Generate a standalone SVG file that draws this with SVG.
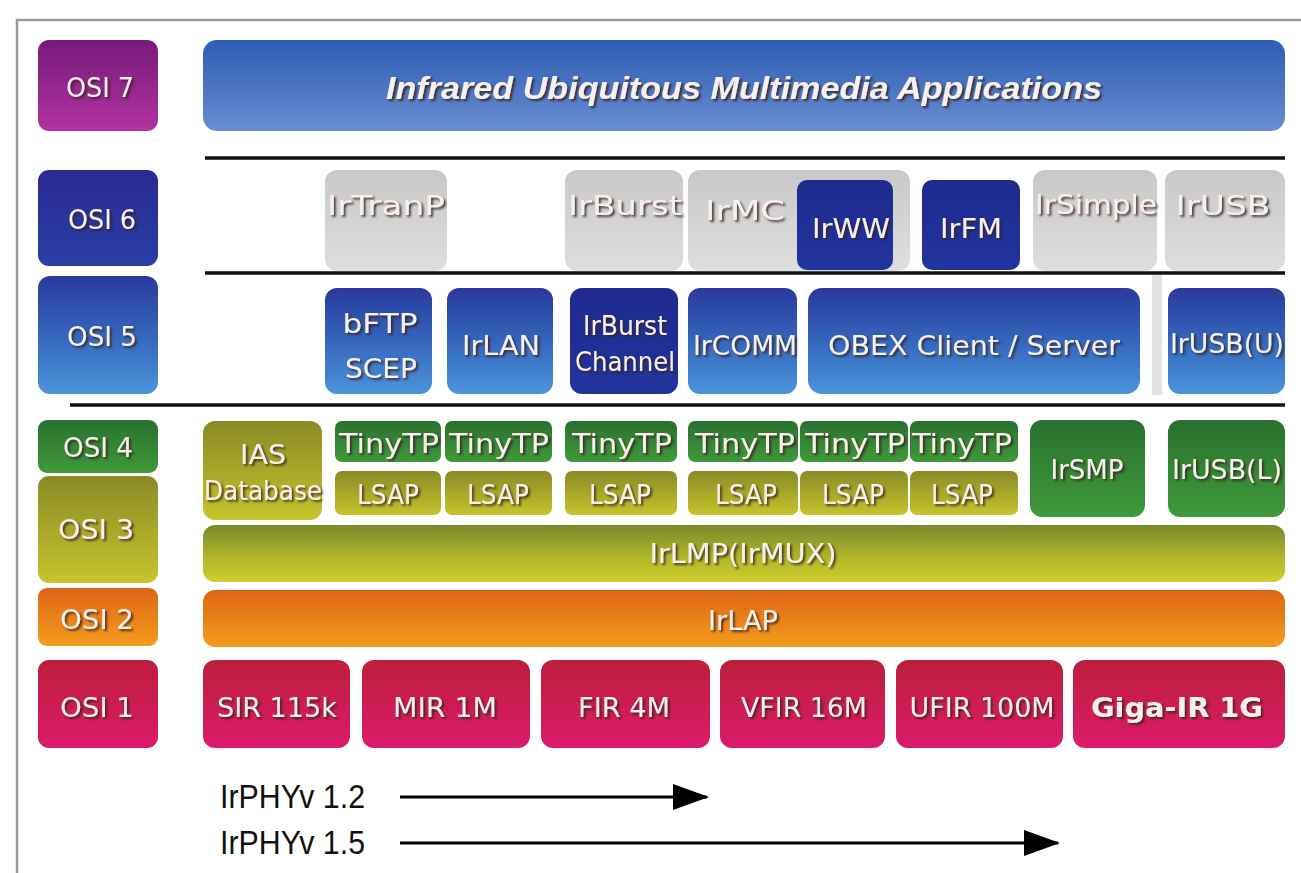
<svg xmlns="http://www.w3.org/2000/svg" width="1301" height="873" viewBox="0 0 1301 873">
<defs>
<linearGradient id="gPurple" x1="0" y1="0" x2="0" y2="1"><stop offset="0" stop-color="#761a7c"/><stop offset="1" stop-color="#b2339f"/></linearGradient>
<linearGradient id="gTop" x1="0" y1="0" x2="0" y2="1"><stop offset="0" stop-color="#2f5db3"/><stop offset="0.5" stop-color="#4a74c2"/><stop offset="1" stop-color="#6a8fd2"/></linearGradient>
<linearGradient id="gNavy" x1="0" y1="0" x2="0" y2="1"><stop offset="0" stop-color="#2a2a92"/><stop offset="1" stop-color="#2a3ea8"/></linearGradient>
<linearGradient id="gDark" x1="0" y1="0" x2="0" y2="1"><stop offset="0" stop-color="#1e2a8e"/><stop offset="1" stop-color="#22349e"/></linearGradient>
<linearGradient id="gBlue" x1="0" y1="0" x2="0" y2="1"><stop offset="0" stop-color="#2a3a9c"/><stop offset="0.5" stop-color="#3466bc"/><stop offset="1" stop-color="#4c94da"/></linearGradient>
<linearGradient id="gGray" x1="0" y1="0" x2="0" y2="1"><stop offset="0" stop-color="#c8c8c8"/><stop offset="1" stop-color="#dedede"/></linearGradient>
<linearGradient id="gGreen" x1="0" y1="0" x2="0" y2="1"><stop offset="0" stop-color="#2a7030"/><stop offset="1" stop-color="#3f9a3a"/></linearGradient>
<linearGradient id="gOlive" x1="0" y1="0" x2="0" y2="1"><stop offset="0" stop-color="#8a8a26"/><stop offset="1" stop-color="#c6c42c"/></linearGradient>
<linearGradient id="gLmp" x1="0" y1="0" x2="0" y2="1"><stop offset="0" stop-color="#778a2c"/><stop offset="0.6" stop-color="#b4b82a"/><stop offset="1" stop-color="#cfcd2a"/></linearGradient>
<linearGradient id="gOrange" x1="0" y1="0" x2="0" y2="1"><stop offset="0" stop-color="#de6418"/><stop offset="1" stop-color="#f49c1c"/></linearGradient>
<linearGradient id="gRed" x1="0" y1="0" x2="0" y2="1"><stop offset="0" stop-color="#bc1f3a"/><stop offset="1" stop-color="#dc1a6c"/></linearGradient>
<filter id="sh" x="-10%" y="-20%" width="120%" height="150%"><feDropShadow dx="2" dy="2" stdDeviation="0.8" flood-color="#3a2222" flood-opacity="0.85"/></filter>
<marker id="ah" markerUnits="userSpaceOnUse" markerWidth="36" markerHeight="26" refX="34" refY="13" orient="auto"><path d="M0,0 L36,13 L0,26 z" fill="#000"/></marker>
</defs>
<style>
.lbl{font-family:"DejaVu Sans","Liberation Sans",sans-serif;font-size:27px;fill:#f6f0ea;text-anchor:middle;filter:url(#sh)}
.sep{stroke:#111;stroke-width:3.5}
.cap{font-family:"Liberation Sans",Arial,sans-serif;font-size:33px;fill:#111}
.arr{stroke:#000;stroke-width:3;fill:none;marker-end:url(#ah)}
</style>
<rect width="1301" height="873" fill="#ffffff"/>
<path d="M17,873 V20 H1301" fill="none" stroke="#9a9a9a" stroke-width="2.5"/>

<!-- OSI column -->
<g id="osi7"><rect x="38" y="40" width="120" height="91" rx="11" fill="url(#gPurple)"/><text class="lbl" x="100" y="97" textLength="68" lengthAdjust="spacingAndGlyphs">OSI 7</text></g>
<g id="osi6"><rect x="38" y="170" width="120" height="96" rx="11" fill="url(#gNavy)"/><text class="lbl" x="102" y="229" textLength="68" lengthAdjust="spacingAndGlyphs">OSI 6</text></g>
<g id="osi5"><rect x="38" y="276" width="120" height="118" rx="12" fill="url(#gBlue)"/><text class="lbl" x="102" y="346" textLength="70" lengthAdjust="spacingAndGlyphs">OSI 5</text></g>
<g id="osi4"><rect x="38" y="420" width="120" height="53" rx="9" fill="url(#gGreen)"/><text class="lbl" x="98" y="457" textLength="70" lengthAdjust="spacingAndGlyphs">OSI 4</text></g>
<g id="osi3"><rect x="38" y="476" width="120" height="107" rx="11" fill="url(#gOlive)"/><text class="lbl" x="96" y="539" textLength="76" lengthAdjust="spacingAndGlyphs">OSI 3</text></g>
<g id="osi2"><rect x="38" y="588" width="120" height="58" rx="9" fill="url(#gOrange)"/><text class="lbl" x="97" y="629" textLength="74" lengthAdjust="spacingAndGlyphs">OSI 2</text></g>
<g id="osi1"><rect x="38" y="660" width="120" height="88" rx="11" fill="url(#gRed)"/><text class="lbl" x="97" y="717" textLength="74" lengthAdjust="spacingAndGlyphs">OSI 1</text></g>

<!-- Layer 7 -->
<g id="apps"><rect x="203" y="40" width="1082" height="91" rx="14" fill="url(#gTop)"/><text x="744" y="99" font-family="'Liberation Sans',Arial,sans-serif" font-size="31" font-weight="bold" font-style="italic" fill="#f6f0ea" text-anchor="middle" filter="url(#sh)" textLength="716" lengthAdjust="spacingAndGlyphs">Infrared Ubiquitous Multimedia Applications</text></g>

<!-- separators -->
<line class="sep" x1="205" y1="158" x2="1285" y2="158"/>
<line class="sep" x1="205" y1="273" x2="1285" y2="273"/>
<line class="sep" x1="70" y1="405" x2="1285" y2="405"/>
<rect x="1152" y="275" width="10" height="120" fill="#e2e2e2"/>

<!-- Layer 6 -->
<g id="irtranp"><rect x="325" y="170" width="122" height="101" rx="12" fill="url(#gGray)"/><text class="lbl" x="386" y="215" textLength="118" lengthAdjust="spacingAndGlyphs">IrTranP</text></g>
<g id="irburst6"><rect x="565" y="170" width="118" height="101" rx="12" fill="url(#gGray)"/><text class="lbl" x="625" y="215" textLength="114" lengthAdjust="spacingAndGlyphs">IrBurst</text></g>
<g id="irmc"><rect x="688" y="170" width="222" height="101" rx="12" fill="url(#gGray)"/><text class="lbl" x="745" y="220" textLength="80" lengthAdjust="spacingAndGlyphs">IrMC</text></g>
<g id="irww"><rect x="797" y="180" width="96" height="90" rx="10" fill="url(#gDark)"/><text class="lbl" x="851" y="238" textLength="78" lengthAdjust="spacingAndGlyphs">IrWW</text></g>
<g id="irfm"><rect x="922" y="180" width="98" height="90" rx="10" fill="url(#gDark)"/><text class="lbl" x="971" y="238" textLength="62" lengthAdjust="spacingAndGlyphs">IrFM</text></g>
<g id="irsimple"><rect x="1033" y="170" width="124" height="101" rx="12" fill="url(#gGray)"/><text class="lbl" x="1096" y="214" textLength="122" lengthAdjust="spacingAndGlyphs">IrSimple</text></g>
<g id="irusb"><rect x="1165" y="170" width="120" height="101" rx="12" fill="url(#gGray)"/><text class="lbl" x="1223" y="215" textLength="95" lengthAdjust="spacingAndGlyphs">IrUSB</text></g>

<!-- Layer 5 -->
<g id="bftp"><rect x="325" y="288" width="107" height="106" rx="12" fill="url(#gBlue)"/><text class="lbl" x="380" y="333" textLength="75" lengthAdjust="spacingAndGlyphs">bFTP</text><text class="lbl" x="381" y="378" textLength="72" lengthAdjust="spacingAndGlyphs">SCEP</text></g>
<g id="irlan"><rect x="447" y="288" width="106" height="106" rx="12" fill="url(#gBlue)"/><text class="lbl" x="501" y="355" textLength="78" lengthAdjust="spacingAndGlyphs">IrLAN</text></g>
<g id="irburstch"><rect x="570" y="288" width="108" height="106" rx="12" fill="url(#gDark)"/><text class="lbl" x="625" y="335" font-size="24" textLength="84" lengthAdjust="spacingAndGlyphs">IrBurst</text><text class="lbl" x="625" y="371" font-size="24" textLength="100" lengthAdjust="spacingAndGlyphs">Channel</text></g>
<g id="ircomm"><rect x="688" y="288" width="109" height="106" rx="12" fill="url(#gBlue)"/><text class="lbl" x="745" y="355" textLength="104" lengthAdjust="spacingAndGlyphs">IrCOMM</text></g>
<g id="obex"><rect x="808" y="288" width="332" height="106" rx="14" fill="url(#gBlue)"/><text class="lbl" x="974" y="355" textLength="292" lengthAdjust="spacingAndGlyphs">OBEX Client / Server</text></g>
<g id="irusbu"><rect x="1168" y="288" width="117" height="106" rx="12" fill="url(#gBlue)"/><text class="lbl" x="1227" y="353" font-size="22" textLength="114" lengthAdjust="spacingAndGlyphs">IrUSB(U)</text></g>

<!-- Layer 4/3 -->
<g id="ias"><rect x="203" y="421" width="119" height="99" rx="12" fill="url(#gOlive)"/><text class="lbl" x="263" y="464" font-size="24" textLength="46" lengthAdjust="spacingAndGlyphs">IAS</text><text class="lbl" x="263" y="500" font-size="24" textLength="118" lengthAdjust="spacingAndGlyphs">Database</text></g>
<g id="tinytp1"><rect x="335" y="421" width="106" height="41" rx="7" fill="url(#gGreen)"/><text class="lbl" x="389" y="453" textLength="100" lengthAdjust="spacingAndGlyphs">TinyTP</text></g>
<g id="tinytp2"><rect x="445" y="421" width="107" height="41" rx="7" fill="url(#gGreen)"/><text class="lbl" x="499" y="453" textLength="100" lengthAdjust="spacingAndGlyphs">TinyTP</text></g>
<g id="tinytp3"><rect x="565" y="421" width="112" height="41" rx="7" fill="url(#gGreen)"/><text class="lbl" x="622" y="453" textLength="100" lengthAdjust="spacingAndGlyphs">TinyTP</text></g>
<g id="tinytp4"><rect x="688" y="421" width="110" height="41" rx="7" fill="url(#gGreen)"/><text class="lbl" x="745" y="453" textLength="100" lengthAdjust="spacingAndGlyphs">TinyTP</text></g>
<g id="tinytp5"><rect x="800" y="421" width="108" height="41" rx="7" fill="url(#gGreen)"/><text class="lbl" x="855" y="453" textLength="100" lengthAdjust="spacingAndGlyphs">TinyTP</text></g>
<g id="tinytp6"><rect x="910" y="421" width="108" height="41" rx="7" fill="url(#gGreen)"/><text class="lbl" x="962" y="453" textLength="100" lengthAdjust="spacingAndGlyphs">TinyTP</text></g>
<g id="lsap1"><rect x="335" y="471" width="106" height="44" rx="7" fill="url(#gOlive)"/><text class="lbl" x="388" y="504" textLength="62" lengthAdjust="spacingAndGlyphs">LSAP</text></g>
<g id="lsap2"><rect x="445" y="471" width="107" height="44" rx="7" fill="url(#gOlive)"/><text class="lbl" x="498" y="504" textLength="62" lengthAdjust="spacingAndGlyphs">LSAP</text></g>
<g id="lsap3"><rect x="565" y="471" width="112" height="44" rx="7" fill="url(#gOlive)"/><text class="lbl" x="620" y="504" textLength="62" lengthAdjust="spacingAndGlyphs">LSAP</text></g>
<g id="lsap4"><rect x="688" y="471" width="110" height="44" rx="7" fill="url(#gOlive)"/><text class="lbl" x="746" y="504" textLength="62" lengthAdjust="spacingAndGlyphs">LSAP</text></g>
<g id="lsap5"><rect x="800" y="471" width="108" height="44" rx="7" fill="url(#gOlive)"/><text class="lbl" x="853" y="504" textLength="62" lengthAdjust="spacingAndGlyphs">LSAP</text></g>
<g id="lsap6"><rect x="910" y="471" width="108" height="44" rx="7" fill="url(#gOlive)"/><text class="lbl" x="962" y="504" textLength="62" lengthAdjust="spacingAndGlyphs">LSAP</text></g>
<g id="irsmp"><rect x="1030" y="420" width="115" height="97" rx="12" fill="url(#gGreen)"/><text class="lbl" x="1087" y="479" textLength="73" lengthAdjust="spacingAndGlyphs">IrSMP</text></g>
<g id="irusbl"><rect x="1168" y="420" width="117" height="97" rx="12" fill="url(#gGreen)"/><text class="lbl" x="1227" y="479" font-size="22" textLength="110" lengthAdjust="spacingAndGlyphs">IrUSB(L)</text></g>
<g id="irlmp"><rect x="203" y="525" width="1082" height="57" rx="12" fill="url(#gLmp)"/><text class="lbl" x="743" y="563" textLength="187" lengthAdjust="spacingAndGlyphs">IrLMP(IrMUX)</text></g>

<!-- Layer 2 -->
<g id="irlap"><rect x="203" y="590" width="1082" height="57" rx="12" fill="url(#gOrange)"/><text class="lbl" x="743" y="630" textLength="70" lengthAdjust="spacingAndGlyphs">IrLAP</text></g>

<!-- Layer 1 -->
<g id="sir"><rect x="203" y="660" width="147" height="88" rx="12" fill="url(#gRed)"/><text class="lbl" x="277" y="717" textLength="120" lengthAdjust="spacingAndGlyphs">SIR 115k</text></g>
<g id="mir"><rect x="362" y="660" width="168" height="88" rx="12" fill="url(#gRed)"/><text class="lbl" x="445" y="717" textLength="104" lengthAdjust="spacingAndGlyphs">MIR 1M</text></g>
<g id="fir"><rect x="541" y="660" width="169" height="88" rx="12" fill="url(#gRed)"/><text class="lbl" x="624" y="717" textLength="92" lengthAdjust="spacingAndGlyphs">FIR 4M</text></g>
<g id="vfir"><rect x="720" y="660" width="165" height="88" rx="12" fill="url(#gRed)"/><text class="lbl" x="804" y="717" textLength="126" lengthAdjust="spacingAndGlyphs">VFIR 16M</text></g>
<g id="ufir"><rect x="896" y="660" width="167" height="88" rx="12" fill="url(#gRed)"/><text class="lbl" x="982" y="717" textLength="145" lengthAdjust="spacingAndGlyphs">UFIR 100M</text></g>
<g id="giga"><rect x="1073" y="660" width="212" height="88" rx="12" fill="url(#gRed)"/><text class="lbl" x="1177" y="717" font-weight="bold" textLength="172" lengthAdjust="spacingAndGlyphs">Giga-IR 1G</text></g>

<!-- PHY version labels and arrows -->
<g id="phy12"><text class="cap" x="220" y="808" textLength="145" lengthAdjust="spacingAndGlyphs">IrPHYv 1.2</text></g>
<g id="phy15"><text class="cap" x="220" y="854" textLength="145" lengthAdjust="spacingAndGlyphs">IrPHYv 1.5</text></g>
<g id="connectors">
<line class="arr" x1="400" y1="797" x2="707" y2="797"/>
<line class="arr" x1="400" y1="843" x2="1058" y2="843"/>
</g>
</svg>
